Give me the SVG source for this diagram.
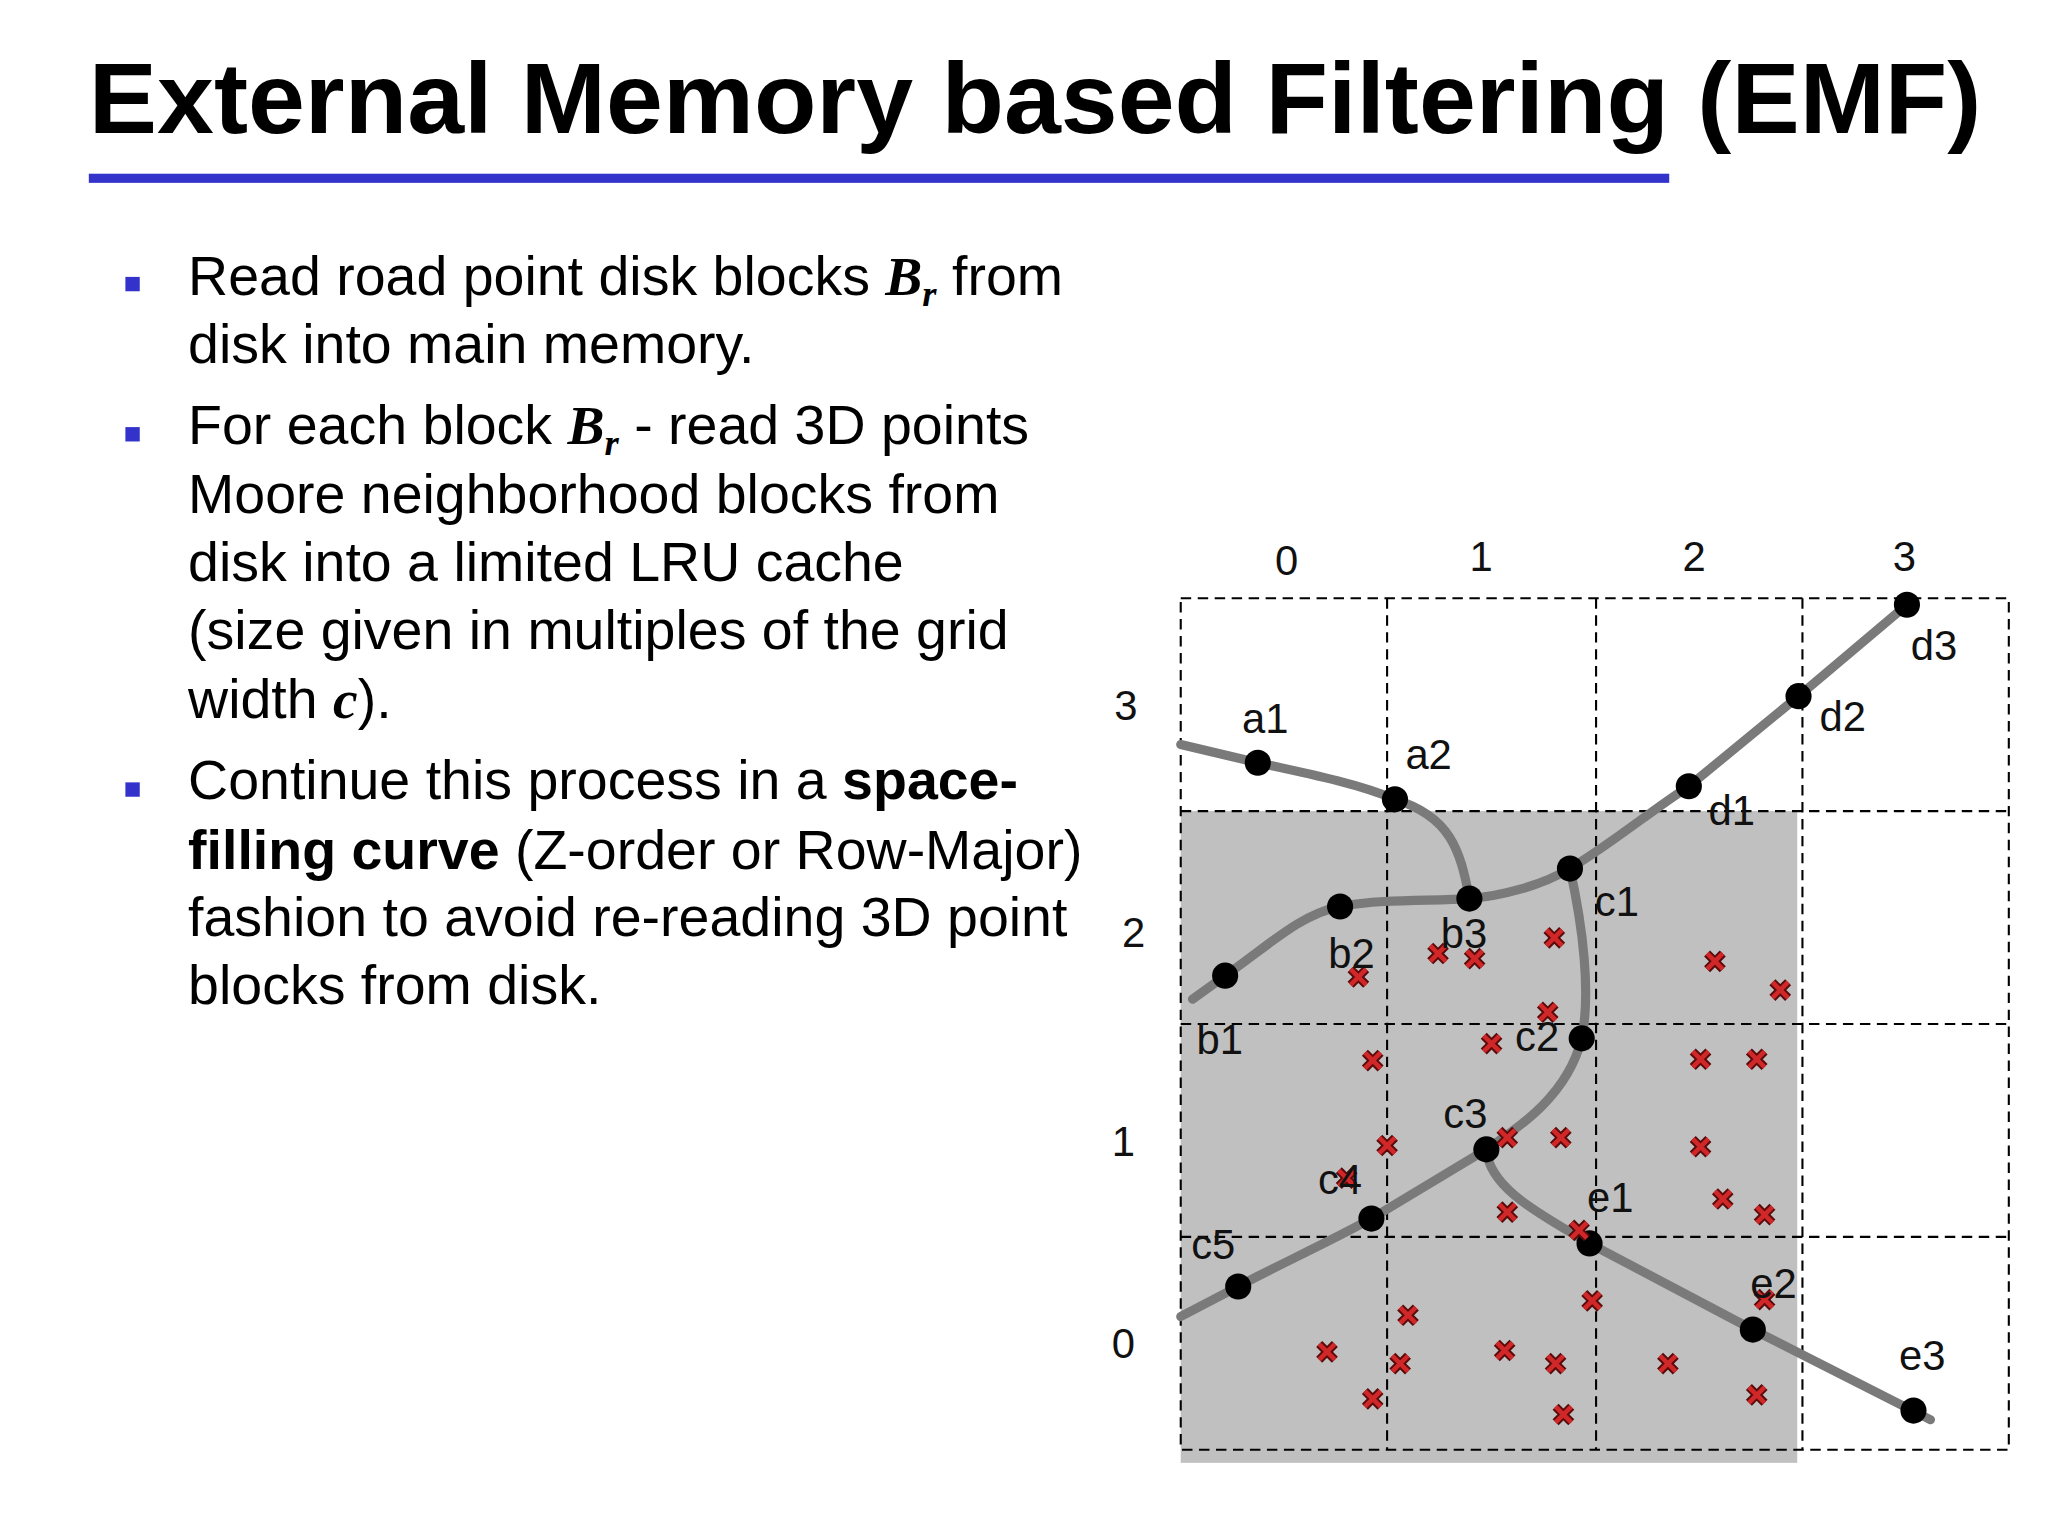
<svg xmlns="http://www.w3.org/2000/svg" xmlns:xlink="http://www.w3.org/1999/xlink" width="2048" height="1536" viewBox="0 0 2048 1536">
<style>
.t{font-family:"Liberation Sans",Arial,sans-serif;font-size:42.5px;fill:#000}
.m{font-family:"Liberation Serif","Times New Roman",serif;font-style:italic;font-weight:bold}
.l{font-family:"Liberation Sans",Arial,sans-serif;font-size:32px;fill:#111}
.g{stroke:#000;stroke-width:1.6;stroke-dasharray:8,5;fill:none}
.r{stroke:#7a7a7a;stroke-width:7;fill:none;stroke-linecap:round}
.p{fill:#000}
</style>
<defs>
<g id="x"><path d="M-6,-6L6,6M6,-6L-6,6" stroke="#5a0a0a" stroke-width="6.5"/><path d="M-6,-6L6,6M6,-6L-6,6" stroke="#d02828" stroke-width="3.5"/></g>
</defs>
<rect width="2048" height="1536" fill="#fff"/>
<g transform="scale(1.30612)">
<g id="title">
<text x="68" y="102" textLength="1449" lengthAdjust="spacingAndGlyphs" style="font-family:'Liberation Sans',Arial,sans-serif;font-weight:bold;font-size:76px">External Memory based Filtering (EMF)</text>
<rect x="68" y="133" width="1210" height="7" fill="#3333cc"/>
</g>
<g id="bullets">
<rect x="96" y="212" width="11" height="11" fill="#3333cc"/>
<rect x="96" y="327" width="11" height="11" fill="#3333cc"/>
<rect x="96" y="599" width="11" height="11" fill="#3333cc"/>
<text class="t" x="144" y="226">Read road point disk blocks <tspan class="m">B</tspan><tspan class="m" font-size="28" dy="8">r</tspan><tspan dy="-8"> from</tspan></text>
<text class="t" x="144" y="278">disk into main memory.</text>
<text class="t" x="144" y="340">For each block <tspan class="m">B</tspan><tspan class="m" font-size="28" dy="8">r</tspan><tspan dy="-8">  - read 3D points</tspan></text>
<text class="t" x="144" y="393">Moore neighborhood blocks from</text>
<text class="t" x="144" y="445">disk into a limited LRU cache</text>
<text class="t" x="144" y="497">(size given in multiples of the grid</text>
<text class="t" x="144" y="550">width <tspan class="m">c</tspan>).</text>
<text class="t" x="144" y="612">Continue this process in a <tspan font-weight="bold">space-</tspan></text>
<text class="t" x="144" y="665"><tspan font-weight="bold">filling curve</tspan> (Z-order or Row-Major)</text>
<text class="t" x="144" y="717">fashion to avoid re-reading 3D point</text>
<text class="t" x="144" y="769">blocks from disk.</text>
</g>
<g id="grid">
<rect x="904" y="621" width="472" height="499" fill="#c0c0c0"/>
<path class="g" d="M904,458H1538V1110H904Z M1062,458V1110 M1222,458V1110 M1380,458V1110 M904,621H1538 M904,784H1538 M904,947H1538"/>
<text class="l" x="985" y="440" text-anchor="middle">0</text>
<text class="l" x="1134" y="437" text-anchor="middle">1</text>
<text class="l" x="1297" y="437" text-anchor="middle">2</text>
<text class="l" x="1458" y="437" text-anchor="middle">3</text>
<text class="l" x="862" y="551" text-anchor="middle">3</text>
<text class="l" x="868" y="725" text-anchor="middle">2</text>
<text class="l" x="860" y="885" text-anchor="middle">1</text>
<text class="l" x="860" y="1040" text-anchor="middle">0</text>
</g>
<g id="connectors">
<path class="r" d="M904,570 L963,584 C1000,592 1040,600 1068,612 C1110,625 1118,650 1125,688"/>
<path class="r" d="M913,765 L938,747 C970,725 995,700 1026,694 C1060,688 1095,690 1125,688 C1150,686 1180,678 1202,665 C1235,645 1265,620 1293,602 L1377,533 L1460,463"/>
<path class="r" d="M1202,665 C1212,710 1218,760 1211,795 C1200,840 1160,865 1138,880 L1050,933 C1010,955 975,970 948,985 L904,1008"/>
<path class="r" d="M1138,880 C1140,910 1180,930 1217,952 L1342,1018 L1478,1087"/>
</g>
<g id="points">
<circle class="p" cx="963" cy="584" r="10"/><circle class="p" cx="1068" cy="612" r="10"/>
<circle class="p" cx="938" cy="747" r="10"/><circle class="p" cx="1026" cy="694" r="10"/><circle class="p" cx="1125" cy="688" r="10"/>
<circle class="p" cx="1202" cy="665" r="10"/><circle class="p" cx="1211" cy="795" r="10"/><circle class="p" cx="1138" cy="880" r="10"/><circle class="p" cx="1050" cy="933" r="10"/><circle class="p" cx="948" cy="985" r="10"/>
<circle class="p" cx="1293" cy="602" r="10"/><circle class="p" cx="1377" cy="533" r="10"/><circle class="p" cx="1460" cy="463" r="10"/>
<circle class="p" cx="1217" cy="952" r="10"/><circle class="p" cx="1342" cy="1018" r="10"/><circle class="p" cx="1465" cy="1080" r="10"/>
</g>
<g id="xs">
<use xlink:href="#x" x="1040" y="748"/><use xlink:href="#x" x="1101" y="730"/><use xlink:href="#x" x="1129" y="734"/><use xlink:href="#x" x="1190" y="718"/><use xlink:href="#x" x="1313" y="736"/><use xlink:href="#x" x="1363" y="758"/><use xlink:href="#x" x="1185" y="775"/><use xlink:href="#x" x="1051" y="812"/><use xlink:href="#x" x="1142" y="799"/><use xlink:href="#x" x="1302" y="811"/><use xlink:href="#x" x="1345" y="811"/><use xlink:href="#x" x="1062" y="877"/><use xlink:href="#x" x="1154" y="871"/><use xlink:href="#x" x="1195" y="871"/><use xlink:href="#x" x="1302" y="878"/><use xlink:href="#x" x="1031" y="902"/><use xlink:href="#x" x="1154" y="928"/><use xlink:href="#x" x="1319" y="918"/><use xlink:href="#x" x="1351" y="930"/><use xlink:href="#x" x="1209" y="942"/><use xlink:href="#x" x="1078" y="1007"/><use xlink:href="#x" x="1219" y="996"/><use xlink:href="#x" x="1351" y="995"/><use xlink:href="#x" x="1016" y="1035"/><use xlink:href="#x" x="1072" y="1044"/><use xlink:href="#x" x="1152" y="1034"/><use xlink:href="#x" x="1191" y="1044"/><use xlink:href="#x" x="1277" y="1044"/><use xlink:href="#x" x="1051" y="1071"/><use xlink:href="#x" x="1197" y="1083"/><use xlink:href="#x" x="1345" y="1068"/>
</g>
<g id="labels">
<text class="l" x="951" y="561">a1</text><text class="l" x="1076" y="589">a2</text>
<text class="l" x="916" y="807">b1</text><text class="l" x="1017" y="741">b2</text><text class="l" x="1103" y="726">b3</text>
<text class="l" x="1221" y="701">c1</text><text class="l" x="1160" y="805">c2</text><text class="l" x="1105" y="864">c3</text><text class="l" x="1009" y="914">c4</text><text class="l" x="912" y="964">c5</text>
<text class="l" x="1308" y="632">d1</text><text class="l" x="1393" y="560">d2</text><text class="l" x="1463" y="505">d3</text>
<text class="l" x="1215" y="928">e1</text><text class="l" x="1340" y="994">e2</text><text class="l" x="1454" y="1049">e3</text>
</g>
</g>
</svg>
